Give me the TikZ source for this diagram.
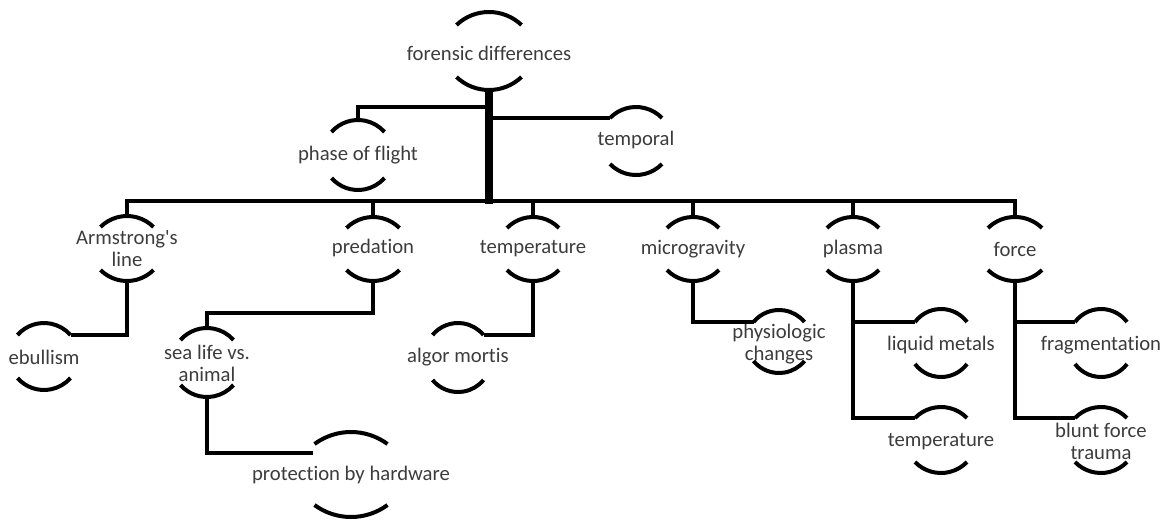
\documentclass[tikz,border=0pt]{standalone}
\usepackage{fontspec}
\setmainfont{Carlito}[Ligatures={TeXOff,CommonOff}]
\usetikzlibrary{calc}
\definecolor{txtgray}{RGB}{60,60,60}

% A bracket node: text between an upper and a lower circular arc.
% #1 name, #2 centre x, #3 text y, #4 top-arc apex y, #5 bottom-arc apex y,
% #6 arc half width, #7 arc sagitta, #8 text   (y measured downwards)
\newcommand{\bnode}[8]{%
  \node[lbl] (#1) at (#2,-#3) {#8};
  \coordinate (#1-top) at (#2,-#4);
  \coordinate (#1-bot) at (#2,-#5);
  \pgfmathsetmacro{\brR}{(#6*#6+#7*#7)/(2*#7)}%
  \pgfmathsetmacro{\brA}{asin(#6/\brR)}%
  \coordinate (#1-tl) at ({#2-#6},{-#4-#7});
  \coordinate (#1-tr) at ({#2+#6},{-#4-#7});
  \draw[arcline] (#1-tl) arc[start angle={90+\brA}, end angle={90-\brA}, radius=\brR];
  \draw[arcline] ({#2-#6},{-#5+#7}) arc[start angle={270-\brA}, end angle={270+\brA}, radius=\brR];
}

\tikzset{
  lbl/.style={inner sep=0pt, align=center, text=txtgray,
    font=\fontsize{20.7}{22}\selectfont},
  arcline/.style={line width=4pt, black},
  conn/.style={line width=4.2pt, black},
  trunkline/.style={line width=8pt, black},
}

\begin{document}
\begin{tikzpicture}[x=1pt,y=1pt]
\useasboundingbox (0,0) rectangle (1171,-520);

% root and its side branches
\bnode{fd}{489}{53}{12}{90}{32.5}{13}{forensic differences}
\bnode{phase}{358}{155}{120}{190}{26.5}{12}{phase of flight}
\bnode{temporal}{636}{140}{107}{175}{26}{11}{temporal}

% second level
\bnode{arm}{127}{249}{216}{281}{26.5}{11}{Armstrong's\\line}
\bnode{pred}{373}{248}{217}{281}{26.5}{11}{predation}
\bnode{temp}{533}{249}{217}{281}{26}{11}{temperature}
\bnode{micro}{693}{249}{217}{281}{26}{11}{microgravity}
\bnode{plasma}{853}{249}{217}{281}{26}{11}{plasma}
\bnode{force}{1015}{249}{217}{281}{27}{11}{force}

% third level
\bnode{ebul}{44}{357}{323}{390}{26.5}{12}{ebullism}
\bnode{sea}{207}{363}{328}{397}{26.5}{12}{sea life vs.\\animal}
\bnode{algor}{458}{357}{323}{392}{25.5}{12}{algor mortis}
\bnode{physio}{779}{344}{310}{373}{25.5}{12}{physiologic\\changes}
\bnode{liquid}{941}{345}{309}{377}{26}{13}{liquid metals}
\bnode{ptemp}{941}{442}{407}{473}{26}{11}{temperature}
\bnode{frag}{1101}{345}{309}{377}{26}{13}{fragmentation}
\bnode{blunt}{1101}{441}{407}{473}{26}{11}{blunt force\\trauma}
\bnode{prot}{351}{475}{432}{517}{36.5}{12}{protection by hardware}

% junction points
\coordinate (bus) at (489,-201);
\coordinate (jphase) at (489,-107);
\coordinate (jtemporal) at (489,-118);
\coordinate (prot-in) at (313,-453);

% trunk and bus
\draw[trunkline] (fd-bot) -- ($(fd-bot |- bus)+(0,-2.5)$);
\draw[conn] (jphase) -| (phase-top);
\draw[conn] (jtemporal) -- (temporal-tl);
\draw[conn] (arm-top) -- (arm-top |- bus) -- (force-top |- bus) -- (force-top);
\foreach \n in {pred,temp,micro,plasma}
  \draw[conn] (\n-top |- bus) -- (\n-top);

% lower branches
\draw[conn] (arm-bot) |- (ebul-tr);
\draw[conn] (pred-bot) -- ++(0,-32) -| (sea-top);
\draw[conn] (sea-bot) |- (prot-in);
\draw[conn] (temp-bot) |- (algor-tr);
\draw[conn] (micro-bot) |- (physio-tl);
\draw[conn] (plasma-bot) |- (ptemp-tl);
\draw[conn] (plasma-bot |- liquid-tl) -- (liquid-tl);
\draw[conn] (force-bot) |- (blunt-tl);
\draw[conn] (force-bot |- frag-tl) -- (frag-tl);
\end{tikzpicture}
\end{document}
